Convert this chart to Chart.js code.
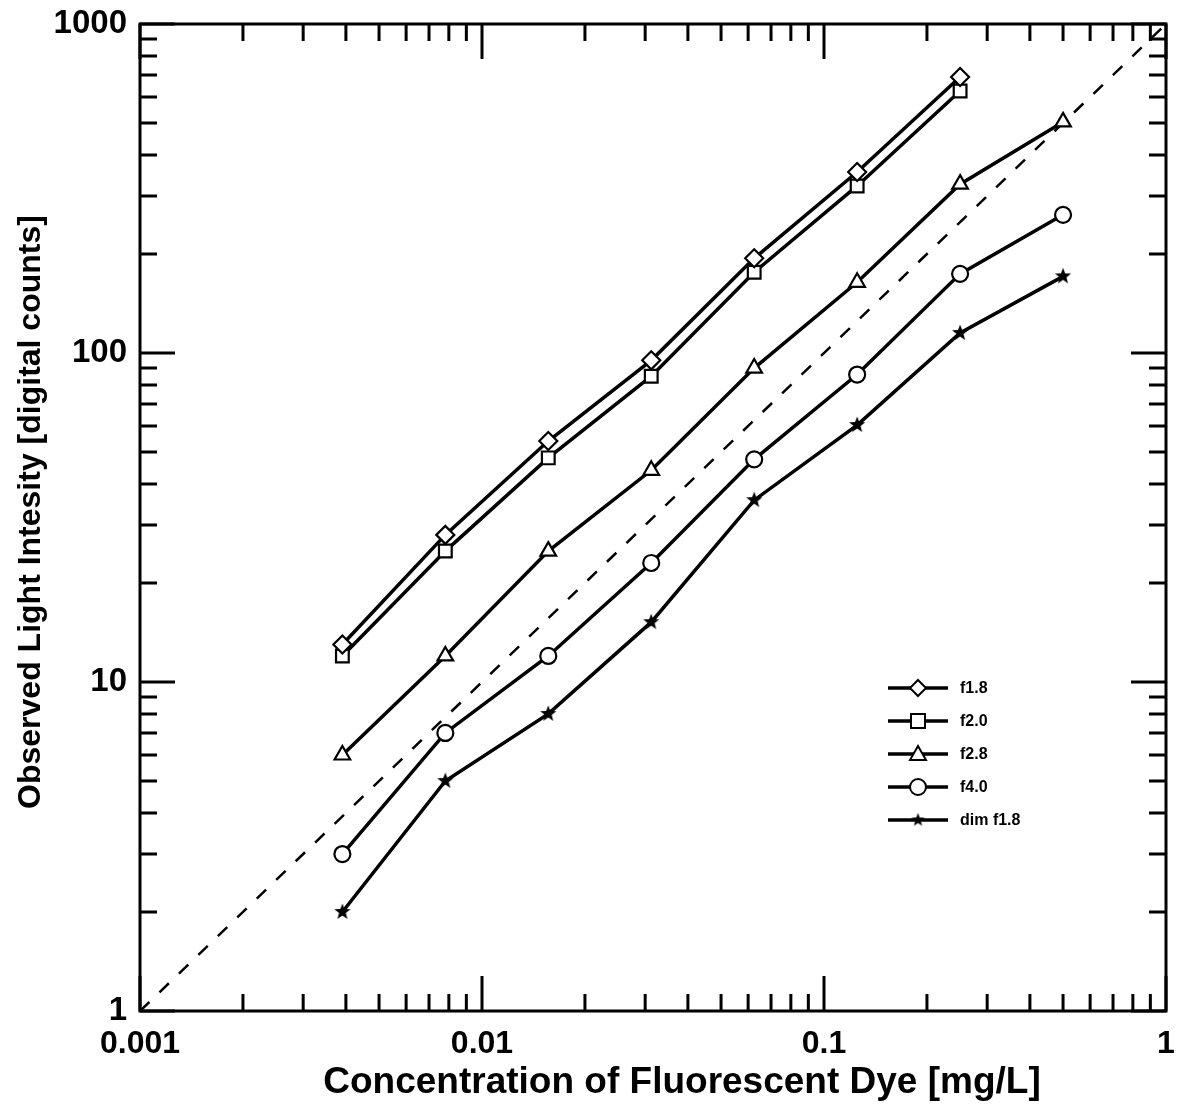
<!DOCTYPE html>
<html>
<head>
<meta charset="utf-8">
<script src="https://cdn.jsdelivr.net/npm/chart.js@4/dist/chart.umd.min.js"></script>
<style>
  html, body { margin: 0; padding: 0; background: #fff; }
  #wrap { width: 1178px; height: 1104px; }
</style>
</head>
<body>
<div id="wrap"><canvas id="c" width="1178" height="1104"></canvas></div>
<script>
// Dye concentrations (mg/L), a two-fold dilution series
const concentration = [0.00390625, 0.0078125, 0.015625, 0.03125, 0.0625, 0.125, 0.25, 0.5];

// Observed light intensity (digital counts) per camera setting
const f18    = [13, 28, 54, 95, 194, 355, 690];
const f20    = [12, 25, 48, 85, 176, 322, 626];
const f28    = [6, 12, 25, 44, 90, 164, 326, 504];
const f40    = [3, 7, 12, 23, 47.5, 86, 174, 263];
const dimF18 = [2, 5, 8, 15.2, 35.7, 60.4, 115, 171];

// One-to-one reference line
const refX = [0.001, 1];
const refY = [1, 1000];

const xTickValues = [0.001, 0.01, 0.1, 1];
const yTickValues = [1, 10, 100, 1000];
const seriesLabels = ['f1.8', 'f2.0', 'f2.8', 'f4.0', 'dim f1.8'];

const pairs = (xs, ys) => ys.map((y, i) => ({ x: xs[i], y }));

// filled five-point star marker
function makeStar(size) {
  const cv = document.createElement('canvas');
  cv.width = size; cv.height = size;
  const g = cv.getContext('2d');
  const cx = size / 2, cy = size / 2, R = size / 2 - 0.5, r = R * 0.42;
  g.beginPath();
  for (let i = 0; i < 10; i++) {
    const a = -Math.PI / 2 + i * Math.PI / 5;
    const rr = i % 2 === 0 ? R : r;
    g.lineTo(cx + rr * Math.cos(a), cy + rr * Math.sin(a));
  }
  g.closePath();
  g.fillStyle = '#000';
  g.fill();
  return cv;
}
const starImg = makeStar(18);
const starImgSmall = makeStar(15);

const FONT = "'Liberation Sans', Arial, Helvetica, sans-serif";

const seriesBase = {
  showLine: true,
  borderColor: '#000',
  borderWidth: 3.5,
  backgroundColor: '#fff',
  pointBorderColor: '#000',
  pointBackgroundColor: '#fff',
  pointBorderWidth: 2.2,
  pointHoverRadius: 8,
  tension: 0,
  fill: false
};

const datasets = [
  Object.assign({}, seriesBase, { label: seriesLabels[0], data: pairs(concentration, f18), pointStyle: 'rectRot', pointRadius: 9 }),
  Object.assign({}, seriesBase, { label: seriesLabels[1], data: pairs(concentration, f20), pointStyle: 'rect', pointRadius: 9 }),
  Object.assign({}, seriesBase, { label: seriesLabels[2], data: pairs(concentration, f28), pointStyle: 'triangle', pointRadius: 9 }),
  Object.assign({}, seriesBase, { label: seriesLabels[3], data: pairs(concentration, f40), pointStyle: 'circle', pointRadius: 8 }),
  Object.assign({}, seriesBase, { label: seriesLabels[4], data: pairs(concentration, dimF18), pointStyle: starImg, pointRadius: 9 }),
  {
    label: '1:1', data: pairs(refX, refY), showLine: true, borderColor: '#000',
    borderWidth: 2.5, borderDash: [13, 14], pointRadius: 0, fill: false, order: 10
  }
];

// inward tick marks on all four sides, the frame, titles and the legend
const framePlugin = {
  id: 'frame',
  afterDraw(chart) {
    const { ctx, chartArea: a, scales } = chart;
    const xs = scales.x, ys = scales.y;
    ctx.save();
    ctx.strokeStyle = '#000';
    ctx.lineWidth = 3;
    ctx.lineCap = 'butt';
    const major = 35, minor = 17;
    ctx.beginPath();
    for (let d = -3; d <= 0; d++) {
      for (let m = 1; m <= 9; m++) {
        const v = m * Math.pow(10, d);
        if (v > 1.0000001) continue;
        const px = xs.getPixelForValue(v);
        const len = m === 1 ? major : minor;
        ctx.moveTo(px, a.bottom); ctx.lineTo(px, a.bottom - len);
        ctx.moveTo(px, a.top); ctx.lineTo(px, a.top + len);
      }
    }
    for (let d = 0; d <= 3; d++) {
      for (let m = 1; m <= 9; m++) {
        const v = m * Math.pow(10, d);
        if (v > 1000.0001) continue;
        const py = ys.getPixelForValue(v);
        const len = m === 1 ? major : minor;
        ctx.moveTo(a.left, py); ctx.lineTo(a.left + len, py);
        ctx.moveTo(a.right, py); ctx.lineTo(a.right - len, py);
      }
    }
    ctx.stroke();
    ctx.lineWidth = 3;
    ctx.strokeRect(a.left, a.top, a.right - a.left, a.bottom - a.top);

    // axis titles
    ctx.fillStyle = '#000';
    ctx.textAlign = 'center';
    ctx.textBaseline = 'middle';
    ctx.font = 'bold 37px ' + FONT;
    ctx.fillText('Concentration of Fluorescent Dye [mg/L]', 682, 1083);
    ctx.save();
    ctx.translate(31, 512);
    ctx.rotate(-Math.PI / 2);
    ctx.font = 'bold 32px ' + FONT;
    ctx.fillText('Observed Light Intesity [digital counts]', 0, 0);
    ctx.restore();

    // legend
    const rowY = [688, 721, 754, 787, 820];
    const x0 = 888, x1 = 948, mx = 918;
    ctx.font = 'bold 16px ' + FONT;
    ctx.textAlign = 'left';
    rowY.forEach((y, i) => {
      ctx.lineWidth = 3.5;
      ctx.beginPath(); ctx.moveTo(x0, y); ctx.lineTo(x1, y); ctx.stroke();
      ctx.lineWidth = 2;
      ctx.fillStyle = '#fff';
      ctx.beginPath();
      if (i === 0) {
        ctx.moveTo(mx, y - 8); ctx.lineTo(mx + 8, y); ctx.lineTo(mx, y + 8); ctx.lineTo(mx - 8, y); ctx.closePath();
        ctx.fill(); ctx.stroke();
      } else if (i === 1) {
        ctx.rect(mx - 7, y - 7, 14, 14); ctx.fill(); ctx.stroke();
      } else if (i === 2) {
        ctx.moveTo(mx, y - 8); ctx.lineTo(mx + 8, y + 6); ctx.lineTo(mx - 8, y + 6); ctx.closePath();
        ctx.fill(); ctx.stroke();
      } else if (i === 3) {
        ctx.arc(mx, y, 8, 0, Math.PI * 2); ctx.fill(); ctx.stroke();
      } else {
        ctx.drawImage(starImgSmall, mx - 7.5, y - 7.5);
      }
      ctx.fillStyle = '#000';
      ctx.fillText(seriesLabels[i], 960, y + 1);
    });
    ctx.restore();
  }
};

// keep the plot frame at fixed edges regardless of label overhang
const noScalePadding = (s) => {
  s.paddingTop = 0; s.paddingBottom = 0; s.paddingLeft = 0; s.paddingRight = 0;
};

new Chart(document.getElementById('c'), {
  type: 'scatter',
  data: { datasets },
  options: {
    responsive: false,
    animation: false,
    devicePixelRatio: 1,
    layout: { padding: { top: 24, right: 12, left: 0, bottom: 0 } },
    plugins: { legend: { display: false }, tooltip: { enabled: false } },
    scales: {
      x: {
        type: 'logarithmic',
        min: 0.001, max: 1,
        afterBuildTicks: (s) => { s.ticks = xTickValues.map(v => ({ value: v })); },
        afterFit: (s) => { s.height = 93; noScalePadding(s); },
        grid: { display: false, drawTicks: false },
        border: { display: false },
        ticks: {
          color: '#000', padding: 14, maxRotation: 0, autoSkip: false,
          font: { family: FONT, size: 32, weight: 'bold' },
          callback: (v) => String(v)
        }
      },
      y: {
        type: 'logarithmic',
        min: 1, max: 1000,
        afterBuildTicks: (s) => { s.ticks = yTickValues.map(v => ({ value: v })); },
        afterFit: (s) => { s.width = 140; noScalePadding(s); },
        grid: { display: false, drawTicks: false },
        border: { display: false },
        ticks: {
          color: '#000', padding: 13, autoSkip: false,
          font: { family: FONT, size: 33, weight: 'bold' },
          callback: (v) => String(v)
        }
      }
    }
  },
  plugins: [framePlugin]
});
</script>
</body>
</html>
